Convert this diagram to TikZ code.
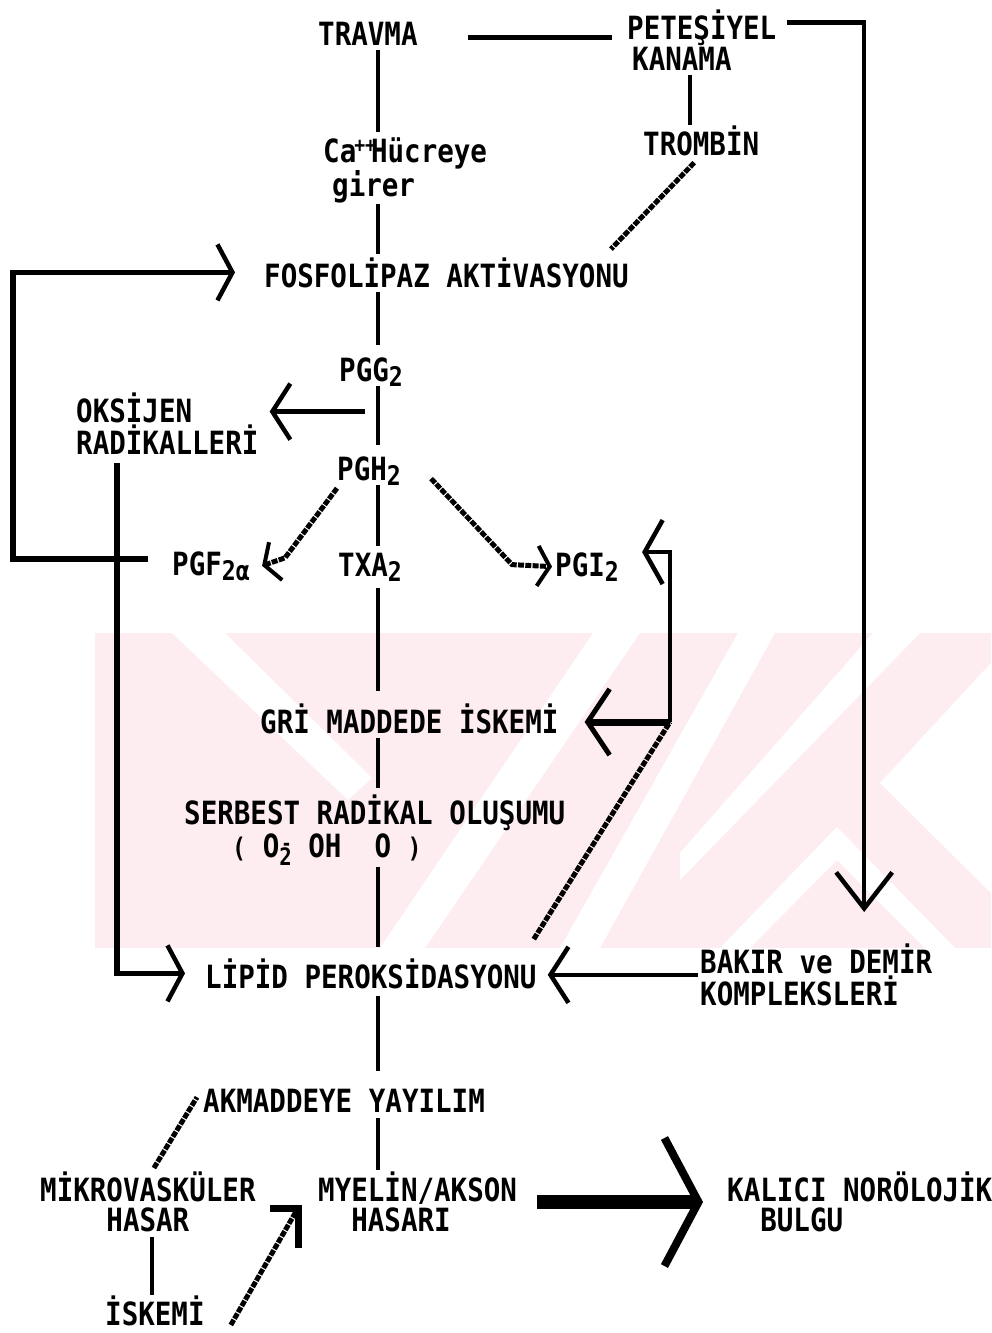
\documentclass[tikz,border=0pt]{standalone}
\usepackage{fontspec}
\setmainfont{DejaVu Sans Mono}[FakeStretch=0.86]
\usetikzlibrary{arrows.meta}
\newcommand{\sbs}[1]{\raisebox{-5pt}{\fontsize{27}{27}\selectfont #1}}
\newcommand{\smp}[1]{{\fontsize{27}{27}\selectfont #1}}
\definecolor{wm}{RGB}{253,237,241}
\tikzset{
  ahd/.tip={Straight Barb[length=18pt,width=56pt,line width=4.5pt]},
  ahs/.tip={Straight Barb[length=12pt,width=40pt,line width=4pt]},
  ahb/.tip={Straight Barb[length=15pt,width=56pt,line width=4.5pt]},
  ahg/.tip={Straight Barb[length=22pt,width=66pt,line width=5pt]},
  ahp/.tip={Straight Barb[length=18pt,width=64pt,line width=4.5pt]},
  ahv/.tip={Straight Barb[length=36pt,width=56pt,line width=4.5pt]},
  ahk/.tip={Straight Barb[length=34pt,width=128pt,line width=8pt]},
}
\begin{document}
\begin{tikzpicture}[x=1pt,y=-1pt,
  every node/.style={inner sep=0pt,align=left,font=\fontsize{32}{29.5}\selectfont\bfseries},
  ln/.style={line width=4.5pt},
  lnw/.style={line width=5.5pt},
  lnt/.style={line width=7pt},
  lnx/.style={line width=14pt},
  stair/.style={line width=5pt,dash pattern=on 6pt off 1.3pt}]
\useasboundingbox (0,0) rectangle (991,1333);
% watermark
\fill[wm] (95,633) rectangle (991,948);
\fill[white] (172,633) -- (225,633) -- (372,778) -- (348,800) -- cycle;
\fill[white] (593,633) -- (640,633) -- (425,948) -- (380,948) -- cycle;
\fill[white] (738,633) -- (775,633) -- (600,948) -- (560,948) -- cycle;
\fill[white] (873,633) -- (920,633) -- (680,880) -- (680,853) -- cycle;
\fill[white] (991,663) -- (880,783) -- (991,893) -- cycle;
\fill[white] (837,827) -- (720,948) -- (750,948) -- (837,860) -- (925,948) -- (955,948) -- cycle;
% nodes
\node[anchor=base west] (travma) at (318,45) {TRAVMA};
\node[anchor=north west] (pete) at (627,10) {PETEŞİYEL\\\hspace*{5pt}KANAMA};
\node[anchor=north west] (ca) at (323,138) {Ca\raisebox{10pt}{\fontsize{21}{21}\selectfont\kern-2pt ++}\kern-5pt Hücreye\\\hspace*{9pt}girer};
\node[anchor=base west] (trombin) at (643,155) {TROMBİN};
\node[anchor=base west] (fosfo) at (264,287) {FOSFOLİPAZ AKTİVASYONU};
\node[anchor=base west] (pgg) at (339,381) {PGG\sbs{2}};
\node[anchor=north west] (oks) at (76,393) {OKSİJEN\\RADİKALLERİ};
\node[anchor=base west] (pgh) at (337,480) {PGH\sbs{2}};
\node[anchor=base west] (pgf) at (172,575) {PGF\sbs{2α}};
\node[anchor=base west] (txa) at (338,576) {TXA\sbs{2}};
\node[anchor=base west] (pgi) at (555,576) {PGI\sbs{2}};
\node[anchor=base west] (gri) at (260,733) {GRİ MADDEDE İSKEMİ};
\node[anchor=base west] (serb) at (184,824) {SERBEST RADİKAL OLUŞUMU};
\node[anchor=base west] (oh) at (232,857) {\smp{(}~O\rlap{\raisebox{7pt}{\fontsize{20}{20}\selectfont\kern2pt -}}\raisebox{-8pt}{\fontsize{24}{24}\selectfont 2}~OH~~O~\smp{)}};
\node[anchor=base west] (lipid) at (205,988) {LİPİD PEROKSİDASYONU};
\node[anchor=north west] (bakir) at (700,944) {BAKIR ve DEMİR\\KOMPLEKSLERİ};
\node[anchor=base west] (akm) at (203,1112) {AKMADDEYE YAYILIM};
\node[anchor=north west] (mik) at (40,1172) {MİKROVASKÜLER\\~~~~HASAR};
\node[anchor=north west] (mye) at (318,1172) {MYELİN/AKSON\\~~HASARI};
\node[anchor=base west] (isk) at (105,1325) {İSKEMİ};
\node[anchor=north west] (kal) at (727,1172) {KALICI NORÖLOJİK\\~~BULGU};
% helper positions
\coordinate (sp) at (378,0);
\coordinate (pk) at (690,0);
\coordinate (lx) at (13,0);
\coordinate (ox) at (117,0);
\coordinate (mx) at (152,0);
\coordinate (gc) at (670,722);
\coordinate (pfl) at ([shift={(-24,-7)}]pgf.west);
% spine
\draw[ln,shorten <=5pt,shorten >=6pt] (travma.south -| sp) -- (ca.north -| sp);
\draw[ln,shorten <=1pt,shorten >=3pt] (ca.south -| sp) -- (fosfo.north -| sp);
\draw[ln,shorten <=4pt,shorten >=12pt] (fosfo.south -| sp) -- (pgg.north -| sp);
\draw[ln,shorten >=11pt] (pgg.south -| sp) -- (pgh.north -| sp);
\draw[ln,shorten >=6pt] (pgh.south -| sp) -- (txa.north -| sp);
\draw[ln,shorten <=7pt,shorten >=12pt] (txa.south -| sp) -- (gri.north -| sp);
\draw[ln,shorten <=4pt,shorten >=6pt] (gri.south -| sp) -- (serb.north -| sp);
\draw[ln,shorten <=2pt,shorten >=11pt] (oh.south -| sp) -- (lipid.north -| sp);
\draw[ln,shorten <=7pt,shorten >=17pt] (lipid.south -| sp) -- (akm.north -| sp);
\draw[ln,shorten <=6pt,shorten >=2pt] (akm.south -| sp) -- (mye.north -| sp);
% top right
\draw[ln,shorten <=50pt,shorten >=15pt] ([yshift=-4pt]travma.east) -- ([yshift=-4pt]travma.east -| pete.west);
\draw[ln,shorten <=4pt] (pete.south -| pk) -- (trombin.north -| pk);
\draw[stair] ([shift={(-7,7)}]trombin.south) -- ([shift={(-18,-8)}]fosfo.north east);
\draw[ln,-{ahv},shorten <=10pt] ([yshift=18pt]pete.east) -| ([shift={(48,-32)}]bakir.north);
% PG branches
\draw[ln,-{ahd},shorten <=13pt,shorten >=11pt] ([yshift=12pt]oks.east -| sp) -- ([yshift=12pt]oks.east);
\draw[stair,-{ahs}] ([shift={(0,3)}]pgh.south west) -- ([shift={(35,-8)}]pgf.east) -- ([xshift=12pt]pgf.east);
\draw[stair,-{ahs}] ([shift={(30,8)}]pgh.east) -- ([shift={(-43,-2)}]pgi.west) -- ([xshift=-3pt]pgi.west);
% loops
\draw[lnw,-{ahb}] (pfl) -- (pfl -| lx) -- (fosfo.west -| lx) -- ([xshift=-29pt]fosfo.west);
\draw[lnw,-{ahb},shorten <=9pt] (oks.south -| ox) -- (lipid.west -| ox) -- ([xshift=-20pt]lipid.west);
\draw[lnt,-{ahg}] (gc) -- ([xshift=26pt]gri.east |- gc);
\draw[ln,-{ahp}] (gc) -- (gc |- pgi.north east) -- ([xshift=23pt]pgi.north east);
\draw[stair] ([shift={(-3,-19)}]lipid.north east) -- (gc);
\draw[ln,-{ahd},shorten <=2pt,shorten >=11pt] (bakir.west) -- (bakir.west -| lipid.east);
% bottom
\draw[stair] ([shift={(6,-4)}]mik.north) -- ([shift={(-6,-15)}]akm.south west);
\draw[ln,shorten <=5pt] (mik.south -| mx) -- (isk.north -| mx);
\coordinate (mh) at ([shift={(-20,6)}]mye.west);
\draw[stair] ([xshift=26pt]isk.base east) -- (mh);
\draw[lnt] ([xshift=-28pt]mh) -- (mh) -- ([yshift=-40pt]mh);
\draw[lnx,-{ahk},shorten <=20pt,shorten >=24pt] (mye.east) -- (mye.east -| kal.west);
\end{tikzpicture}
\end{document}
